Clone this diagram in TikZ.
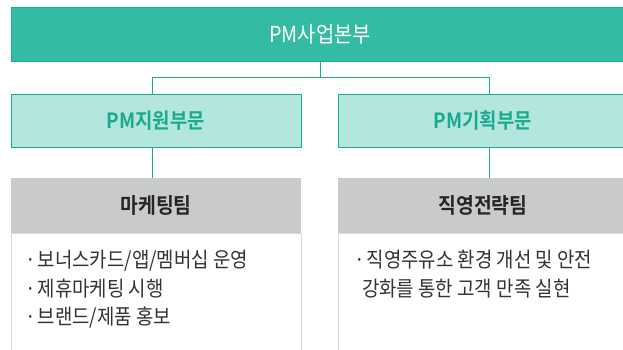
\documentclass[tikz,border=0pt]{standalone}
\usepackage{fontspec}
\setmainfont{Noto Sans CJK KR}[BoldFont={* Bold}]
\newfontfamily\condfont{Noto Sans CJK KR}[FakeStretch=0.9, BoldFont={* Bold}]
\definecolor{teal1}{HTML}{34BBA3}
\definecolor{teal2}{HTML}{1BAA8E}
\definecolor{teal3}{HTML}{B3E6DF}
\definecolor{gray1}{HTML}{C9CACA}
\definecolor{gray2}{HTML}{DADADA}
\definecolor{txt}{HTML}{333333}
\newcommand{\bul}{·\hspace{2pt}}
\tikzset{
  topbox/.style={draw=teal2, fill=teal1, line width=0.8pt, minimum width=618pt, minimum height=54pt, inner sep=0pt, text=white, font=\condfont\fontsize{22}{24}\selectfont},
  midbox/.style={draw=teal2, fill=teal3, line width=0.8pt, minimum width=290pt, minimum height=53pt, inner sep=0pt, text=teal2, font=\condfont\fontsize{21}{24}\selectfont\bfseries},
  headbox/.style={fill=gray1, minimum width=290pt, minimum height=55pt, inner sep=0pt, text=black!85, font=\condfont\fontsize{21.5}{24}\selectfont\bfseries},
  bodybox/.style={draw=gray2, fill=white, line width=0.8pt, minimum width=290pt, minimum height=130pt, inner sep=0pt},
  link/.style={draw=teal2, line width=0.9pt},
  item/.style={anchor=base west, inner sep=0pt, text=txt, font=\condfont\fontsize{21}{24}\selectfont}
}
\begin{document}
\begin{tikzpicture}[x=1pt, y=-1pt]
\useasboundingbox (0,0) rectangle (623,349);
\clip (0,0) rectangle (623,349);
\node[topbox] (top) at (320,34) {PM사업본부};
\node[midbox] (m1) at (156,120.5) {PM지원부문};
\node[midbox] (m2) at (483,120.5) {PM기획부문};
\node[bodybox, anchor=north] (b1) at (156,233) {};
\node[bodybox, anchor=north] (b2) at (483,233) {};
\node[headbox] (h1) at (156,205.5) {마케팅팀};
\node[headbox] (h2) at (483,205.5) {직영전략팀};
\coordinate (jl) at (152,77);
\coordinate (jr) at (489,77);
\draw[link] (top.south) -- (top.south |- jl);
\draw[link] (jl) -- (jr);
\draw[link] (jl) -- (jl |- m1.north);
\draw[link] (jr) -- (jr |- m2.north);
\draw[link] (jl |- m1.south) -- (jl |- h1.north);
\draw[link] (jr |- m2.south) -- (jr |- h2.north);
\node[item] (t1) at (25,267) {\bul 보너스카드/앱/멤버십 운영};
\node[item] (t2) at (25,296) {\bul 제휴마케팅 시행};
\node[item] (t3) at (25,324.5) {\bul 브랜드/제품 홍보};
\node[item] (t4) at (354,267) {\bul 직영주유소 환경 개선 및 안전};
\node[item] (t5) at (362,296) {강화를 통한 고객 만족 실현};
\end{tikzpicture}
\end{document}
